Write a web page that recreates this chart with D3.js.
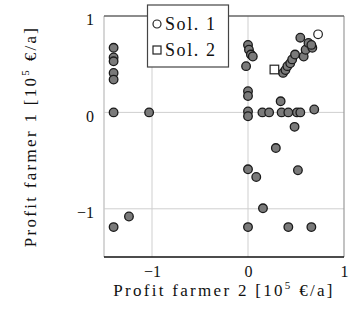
<!DOCTYPE html>
<html><head><meta charset="utf-8">
<script src="https://cdn.jsdelivr.net/npm/d3@7"></script>
<style>body{margin:0;background:#fff}svg{display:block}</style>
</head><body>
<svg id="c" width="354" height="322"></svg>
<script>
// Profit farmer 2 (x) and farmer 1 (y), in 10^5 €/a
const pointsX = [-1.4,-1.4,-1.4,-1.4,-1.4,-1.4,-1.03,
  0,0.01,0.03,0.05,-0.02,0,0,0,0,
  0.15,0.22,0.34,0.35,0.42,0.51,0.545,0.69,0.485,
  0.365,0.39,0.41,0.44,0.46,0.49,0.58,0.6,0.67,0.63,0.545,0.66,
  0.29,0,0.086,0.52,0.156,-1.24,-1.4,0,0.42,0.66];
const pointsY = [0.67,0.57,0.53,0.41,0.34,0,0,
  0.70,0.65,0.60,0.58,0.48,0.22,0.17,0.01,-0.04,
  0,0,0.115,0,0,0,0,0.03,-0.15,
  0.41,0.44,0.48,0.51,0.55,0.60,0.58,0.65,0.67,0.72,0.775,0.70,
  -0.37,-0.59,-0.67,-0.60,-0.995,-1.08,-1.19,-1.19,-1.19,-1.19];
const sol1 = [0.73, 0.81];
const sol2 = [0.275, 0.445];
const xTicks = [-1, 0, 1];
const yTicks = [-1, 0, 1];
const legendLabels = ["Sol. 1", "Sol. 2"];

const FONT = '"Liberation Serif"';
const svg = d3.select("#c");
const L = 104, R = 344, T = 16, B = 257;
const x = d3.scaleLinear().domain([-1.5, 1]).range([L, R]);
const y = d3.scaleLinear().domain([-1.5, 1]).range([B, T]);

// grid
svg.append("g").selectAll("line").data(xTicks.filter(d => d < 1)).join("line")
  .attr("x1", d => x(d)).attr("x2", d => x(d)).attr("y1", T).attr("y2", B)
  .attr("stroke", "#cfcfcf").attr("stroke-width", 1);
svg.append("g").selectAll("line").data(yTicks.filter(d => d < 1)).join("line")
  .attr("y1", d => y(d)).attr("y2", d => y(d)).attr("x1", L).attr("x2", R)
  .attr("stroke", "#cfcfcf").attr("stroke-width", 1);

// frame
svg.append("line").attr("x1", L).attr("x2", L).attr("y1", T).attr("y2", B).attr("stroke", "#c8c8c8").attr("stroke-width", 1.5);
svg.append("line").attr("x1", R).attr("x2", R).attr("y1", T).attr("y2", B).attr("stroke", "#9a9a9a").attr("stroke-width", 1.2);
svg.append("line").attr("x1", L).attr("x2", R).attr("y1", T).attr("y2", T).attr("stroke", "#666").attr("stroke-width", 1.6);
svg.append("line").attr("x1", L).attr("x2", R).attr("y1", B).attr("y2", B).attr("stroke", "#111").attr("stroke-width", 1.6);

// axes (labels)
const fmt = d => d < 0 ? "\u2212" + Math.abs(d) : d;
const gx = svg.append("g").attr("transform", `translate(0,${B})`)
  .call(d3.axisBottom(x).tickValues(xTicks).tickSize(0).tickPadding(9).tickFormat(fmt));
gx.select(".domain").remove();
gx.selectAll("text").style("font-family", FONT).style("font-size", "16px").attr("fill", "#111");

const gy = svg.append("g").attr("transform", `translate(${L},0)`)
  .call(d3.axisLeft(y).tickValues(yTicks).tickSize(0).tickPadding(10).tickFormat(fmt));
gy.select(".domain").remove();
gy.selectAll("text").style("font-family", FONT).style("font-size", "16px").attr("fill", "#111").attr("dy", "0.55em");

// points
svg.append("g").selectAll("circle").data(pointsX.map((v, i) => [v, pointsY[i]])).join("circle")
  .attr("cx", d => x(d[0])).attr("cy", d => y(d[1])).attr("r", 4.3)
  .attr("fill", "#7a7a7a").attr("stroke", "#1a1a1a").attr("stroke-width", 1.3);

svg.append("circle").attr("cx", x(sol1[0])).attr("cy", y(sol1[1])).attr("r", 4.3)
  .attr("fill", "#fff").attr("stroke", "#222").attr("stroke-width", 1.2);
svg.append("rect").attr("x", x(sol2[0]) - 4.3).attr("y", y(sol2[1]) - 4.3).attr("width", 8.6).attr("height", 8.6)
  .attr("fill", "#fff").attr("stroke", "#222").attr("stroke-width", 1.2);

// legend
const lg = svg.append("g");
lg.append("rect").attr("x", 147.5).attr("y", 5).attr("width", 81).attr("height", 62)
  .attr("fill", "#fff").attr("stroke", "#444").attr("stroke-width", 1.2);
lg.append("circle").attr("cx", 157).attr("cy", 24).attr("r", 4).attr("fill", "#fff").attr("stroke", "#222").attr("stroke-width", 1.2);
lg.append("rect").attr("x", 153).attr("y", 46).attr("width", 8).attr("height", 8).attr("fill", "#fff").attr("stroke", "#222").attr("stroke-width", 1.2);
lg.selectAll("text").data(legendLabels).join("text")
  .attr("x", 165).attr("y", (d, i) => 30 + i * 26)
  .style("font-family", FONT).style("font-size", "18px").style("letter-spacing", "1.6px").attr("fill", "#111")
  .text(d => d);

// axis titles
function title(g, label) {
  const t = g.append("text").style("font-family", FONT).style("font-size", "17px")
    .style("letter-spacing", "2.3px").attr("fill", "#111").attr("text-anchor", "middle");
  t.append("tspan").text(label + " [10");
  t.append("tspan").style("font-size", "11px").attr("dy", -7).text("5");
  t.append("tspan").attr("dy", 7).text(" \u20AC/a]");
  return t;
}
title(svg.append("g").attr("transform", `translate(${(L + R) / 2},296)`), "Profit farmer 2");
title(svg.append("g").attr("transform", `translate(36,${(T + B) / 2}) rotate(-90)`), "Profit farmer 1");
</script>
</body></html>
